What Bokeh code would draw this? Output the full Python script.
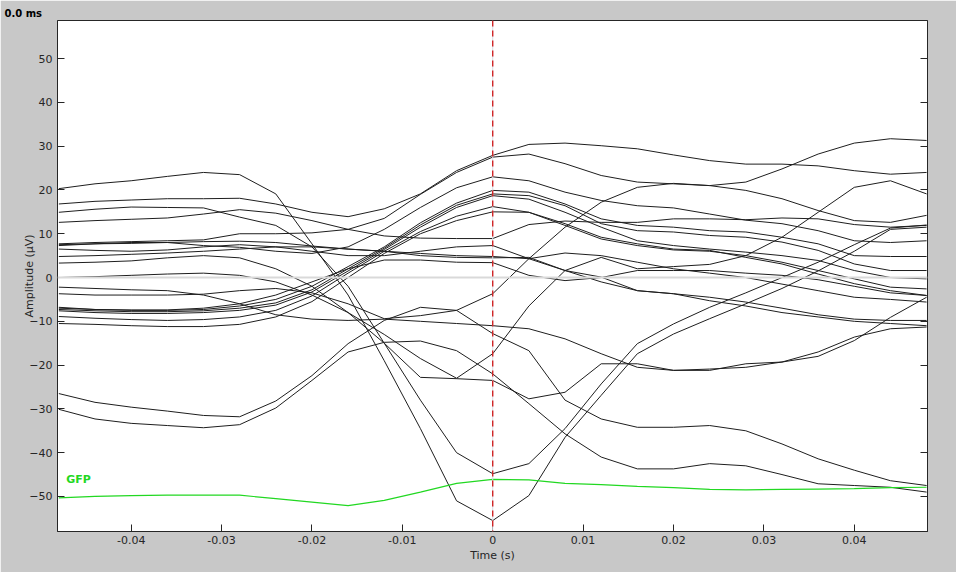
from bokeh.plotting import figure
from bokeh.models import Range1d, LinearAxis, FixedTicker, Span
from bokeh.embed import file_html
from bokeh.resources import INLINE
from bokeh.core.properties import value

# ---- data ----
time_s = [-0.048, -0.044, -0.040, -0.036, -0.032, -0.028, -0.024, -0.020, -0.016,
          -0.012, -0.008, -0.004, 0.000, 0.004, 0.008, 0.012, 0.016, 0.020,
          0.024, 0.028, 0.032, 0.036, 0.040, 0.044, 0.048]

ch_a = [20.3, 21.4, 22.1, 23.1, 24.0, 23.5, 19.1, 7.7, -4.0, -19.0, -34.5, -51.0, -55.5,
        -49.8, -36.5, -26.9, -17.4, -12.9, -9.4, -6.0, -2.5, 1.5, 6.0, 11.0, 11.5]
ch_b = [16.8, 17.4, 17.7, 18.0, 18.0, 18.1, 16.8, 14.9, 13.9, 15.7, 19.1, 24.4, 27.9,
        30.4, 30.7, 30.1, 29.4, 28.0, 26.7, 25.9, 25.9, 25.5, 24.4, 23.6, 24.0]
ch_c = [14.9, 15.6, 16.1, 16.0, 15.9, 13.8, 11.9, 7.0, -2.0, -15.0, -28.0, -40.0, -44.8,
        -42.5, -34.5, -24.3, -15.1, -10.6, -6.8, -3.5, 0.0, 3.5, 7.5, 11.3, 12.0]
ch_d = [12.6, 13.0, 13.3, 13.6, 14.5, 15.5, 14.7, 13.0, 11.0, 9.5, 9.0, 8.9, 8.9,
        12.1, 12.9, 12.6, 12.6, 13.4, 13.4, 13.2, 13.6, 13.4, 12.1, 11.5, 11.9]
ch_e = [-26.5, -28.5, -29.6, -30.5, -31.5, -31.8, -28.2, -22.4, -15.1, -9.8, -6.8, -7.5, -12.8,
        -16.7, -28.0, -32.3, -34.2, -34.2, -33.8, -35.0, -38.0, -41.4, -44.0, -46.4, -47.5]
ch_f = [-30.1, -32.3, -33.3, -33.8, -34.3, -33.6, -29.8, -23.5, -17.0, -14.8, -14.5, -16.7, -22.0,
        -28.8, -35.7, -41.0, -43.7, -43.7, -42.5, -43.0, -45.0, -47.1, -47.5, -47.9, -49.0]
ch_g = [7.7, 8.0, 8.2, 8.4, 8.6, 10.0, 10.0, 10.2, 11.0, 13.5, 19.0, 24.0, 27.5,
        28.2, 26.0, 23.3, 21.8, 21.4, 21.0, 19.9, 18.0, 15.3, 13.0, 12.6, 14.2]
ch_h = [7.3, 7.7, 8.0, 8.0, 7.3, 6.9, 6.0, 5.5, 7.0, 11.0, 16.0, 20.5, 23.0,
        22.1, 19.5, 17.6, 16.4, 15.9, 14.5, 13.1, 12.3, 10.7, 8.4, 8.0, 8.4]
ch_i = [-6.8, -7.3, -7.5, -7.5, -7.3, -6.5, -5.0, -2.0, 2.5, 7.0, 12.5, 17.0, 19.9,
        19.5, 16.8, 13.4, 11.9, 11.5, 10.7, 10.4, 9.2, 7.7, 5.0, 4.8, 4.8]
ch_j = [-7.3, -7.6, -7.8, -7.8, -7.6, -7.0, -5.8, -2.8, 2.0, 6.7, 12.0, 16.5, 19.1,
        18.7, 16.4, 12.3, 10.7, 10.4, 9.6, 9.2, 8.1, 6.2, 3.1, 1.6, 1.6]
ch_k = [-7.6, -8.0, -8.2, -8.2, -8.0, -7.5, -6.3, -3.3, 1.5, 6.4, 11.5, 16.0, 18.7,
        17.9, 14.9, 11.5, 8.4, 7.3, 6.5, 5.8, 5.0, 3.9, 1.6, 0.0, -0.3]
ch_l = [-8.9, -9.3, -9.6, -9.8, -9.6, -9.0, -7.5, -4.2, 1.0, 6.0, 10.5, 14.0, 16.2,
        14.9, 12.3, 9.2, 7.7, 6.5, 6.2, 4.6, 3.1, 0.8, -1.4, -3.0, -4.1]
ch_m = [-10.5, -10.7, -11.0, -11.2, -11.2, -10.7, -9.0, -5.5, 0.0, 5.5, 10.0, 13.0, 15.0,
        14.9, 11.9, 8.8, 7.3, 6.3, 6.0, 5.0, 3.5, 1.6, -0.3, -2.2, -2.6]
ch_n = [0.0, 0.2, 0.5, 0.8, 1.0, 0.5, -1.0, -4.0, -8.0, -13.0, -18.5, -23.0, -17.4,
        -6.5, 1.6, 4.6, 2.0, 2.5, 3.0, 5.0, 9.2, 14.9, 20.6, 22.1, 19.1]
ch_o = [3.3, 3.5, 3.8, 4.5, 5.0, 4.5, 2.0, -2.0, -8.0, -15.0, -22.8, -23.1, -23.5,
        -27.7, -26.2, -19.7, -19.7, -21.2, -20.9, -20.5, -19.3, -17.0, -13.6, -11.7, -11.3]
ch_p = [-2.2, -2.5, -2.8, -3.0, -4.0, -6.0, -8.5, -9.5, -9.8, -9.5, -10.0, -10.5, -11.0,
        -11.7, -14.0, -17.4, -20.5, -21.2, -21.2, -19.7, -19.3, -18.0, -14.4, -9.1, -4.5]
ch_q = [-3.7, -4.0, -4.0, -4.0, -3.8, -3.0, -2.5, -3.5, -6.0, -9.4, -8.7, -7.5, -3.7,
        4.3, 11.5, 17.2, 20.6, 21.5, 21.0, 21.8, 24.8, 28.2, 30.7, 31.7, 31.3]
ch_r = [6.5, 6.2, 6.0, 6.3, 7.0, 7.5, 7.0, 6.0, 5.0, 5.0, 6.0, 7.0, 7.3,
        4.3, 1.6, -1.0, -3.0, -3.7, -5.3, -6.5, -8.0, -9.0, -10.0, -10.5, -11.0]
ch_s = [4.8, 5.0, 5.3, 5.6, 6.0, 6.5, 7.0, 7.0, 6.5, 6.0, 5.5, 5.0, 4.8,
        4.3, 5.6, 5.0, 3.5, 2.0, 1.0, 0.0, -1.5, -3.0, -4.5, -5.0, -5.6]
ch_t = [7.5, 7.7, 7.8, 8.0, 8.2, 8.3, 8.0, 7.2, 6.5, 6.0, 5.0, 4.6, 4.5,
        4.6, 1.6, 0.1, -3.0, -3.7, -4.5, -5.6, -7.0, -8.5, -9.5, -9.8, -9.8]
ch_u = [-7.0, -7.3, -7.4, -7.4, -7.0, -6.0, -4.0, -1.0, 2.0, 4.0, 4.0, 3.5, 3.4,
        0.5, -0.7, 0.0, 1.6, 1.6, 1.6, 1.0, 0.5, -0.5, -2.0, -3.5, -4.1]

channels = [ch_a, ch_b, ch_c, ch_d, ch_e, ch_f, ch_g, ch_h, ch_i, ch_j, ch_k,
            ch_l, ch_m, ch_n, ch_o, ch_p, ch_q, ch_r, ch_s, ch_t, ch_u]

gfp = [-50.3, -50.0, -49.8, -49.7, -49.7, -49.7, -50.5, -51.3, -52.1, -50.9, -49.0, -47.0, -46.1,
       -46.2, -47.0, -47.3, -47.7, -48.0, -48.4, -48.5, -48.4, -48.3, -48.2, -48.0, -47.9]

x_ticks = [-0.04, -0.03, -0.02, -0.01, 0.0, 0.01, 0.02, 0.03, 0.04]
x_tick_labels = ["-0.04", "-0.03", "-0.02", "-0.01", "0", "0.01", "0.02", "0.03", "0.04"]
y_ticks = [-50, -40, -30, -20, -10, 0, 10, 20, 30, 40, 50]

title_text = "0.0 ms"
gfp_label = "GFP"
x_label = "Time (s)"
y_label = "Amplitude (\u03bcV)"

# ---- figure ----
FONT = "DejaVu Sans"
AX = "#262626"
GREEN = "#22d822"

p = figure(width=956, height=572, output_backend="svg", toolbar_location=None,
           x_range=Range1d(-0.04815, 0.04810), y_range=Range1d(-58.0, 58.7),
           min_border_left=57, min_border_right=29, min_border_top=20, min_border_bottom=41)
p.background_fill_color = "white"
p.border_fill_color = "#c8c8c8"
p.outline_line_color = AX
p.outline_line_width = 1
p.xgrid.visible = False
p.ygrid.visible = False

p.title.text = title_text
p.title.align = "left"
p.title.offset = -53
p.title.standoff = 3
p.title.text_font = FONT
p.title.text_font_size = "10px"
p.title.text_font_style = "bold"
p.title.text_color = "black"

def style_axis(ax, show_labels=True):
    ax.axis_line_color = AX
    ax.major_tick_line_color = AX
    ax.major_tick_in = 7
    ax.major_tick_out = 0
    ax.minor_tick_line_color = None
    ax.major_label_text_font = FONT
    ax.major_label_text_color = AX
    ax.major_label_text_font_size = "11px" if show_labels else "0px"
    ax.axis_label_text_font = FONT
    ax.axis_label_text_font_style = "normal"
    ax.axis_label_text_font_size = "11px"
    ax.axis_label_text_color = AX

xb = p.xaxis[0]
xb.ticker = FixedTicker(ticks=x_ticks)
xb.major_label_overrides = {t: s for t, s in zip(x_ticks, x_tick_labels)}
style_axis(xb)
xb.axis_label = x_label
xb.major_label_standoff = 4
xb.axis_label_standoff = 2

yl = p.yaxis[0]
yl.ticker = FixedTicker(ticks=y_ticks)
style_axis(yl)
yl.axis_label = y_label
yl.major_label_standoff = 5
yl.axis_label_standoff = -10

yr = LinearAxis(ticker=FixedTicker(ticks=y_ticks), major_label_overrides={t: "" for t in y_ticks})
style_axis(yr, show_labels=True)
yr.major_label_standoff = 0
p.add_layout(yr, "right")

# zero lines
p.add_layout(Span(location=0, dimension="width", line_color="#d9d9d9", line_width=2))
p.add_layout(Span(location=0, dimension="height", line_color="#d6dde6", line_width=1))

# channels
for ch in channels:
    p.line(time_s, ch, line_color="#1e1e1e", line_width=1)

# GFP
p.line(time_s, gfp, line_color=GREEN, line_width=1.2)
p.text(x=[-0.04719], y=[-46.1], text=[gfp_label], text_font=value(FONT),
       text_font_size="11px", text_font_style="bold", text_color=GREEN,
       text_baseline="middle", text_align="left")

# t = 0 marker
p.add_layout(Span(location=0, dimension="height", line_color="#d01818",
                  line_width=1.3, line_dash="6 4"))

open("out.html", "w").write(file_html(p, INLINE))
